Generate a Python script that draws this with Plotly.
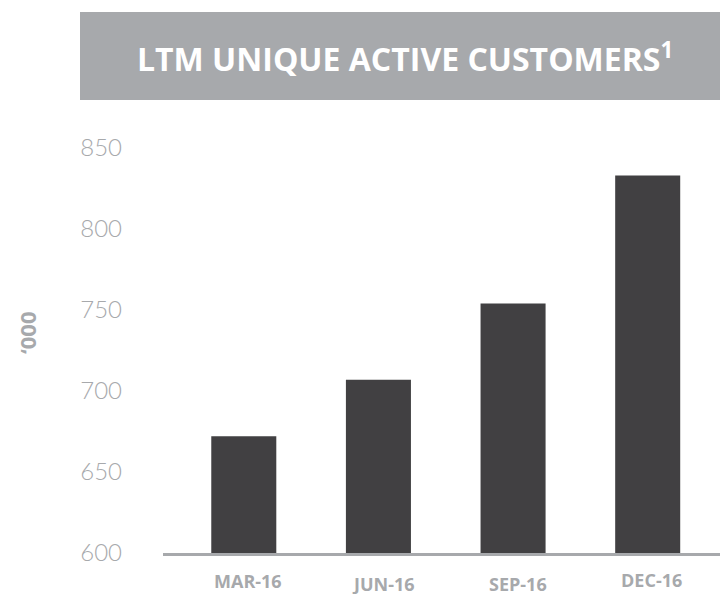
import plotly.graph_objects as go

categories = ["MAR-16", "JUN-16", "SEP-16", "DEC-16"]
values = [672, 707, 754, 833]
y_ticks = [600, 650, 700, 750, 800, 850]
title_text = "LTM UNIQUE ACTIVE CUSTOMERS<sup>1</sup>"
y_label = "‘000"

# label styling offsets (px)
label_dx = [4, 5, 5, 4]
label_dy = [-28, -31, -31, -27]

GREY = "#a7a9ac"
BAR = "#414042"

fig = go.Figure()
fig.add_trace(go.Bar(
    x=list(range(len(categories))), y=values,
    marker=dict(color=BAR, line=dict(width=0)),
    width=0.483,
    hoverinfo="skip",
))

fig.update_layout(
    width=720, height=594,
    margin=dict(l=163, r=0, t=148, b=41),
    paper_bgcolor="white", plot_bgcolor="white",
    showlegend=False,
    font=dict(family="Lato, Open Sans, sans-serif"),
)
fig.update_xaxes(
    range=[-0.6, 3.537], showticklabels=False, showgrid=False, zeroline=False,
    showline=True, linecolor=GREY, linewidth=3, ticks="",
)
fig.update_yaxes(
    range=[600, 850], tickvals=y_ticks, ticktext=[str(v) for v in y_ticks],
    showgrid=False, zeroline=False, showline=False, ticks="",
    tickfont=dict(size=24, color=GREY, family="Lato, Open Sans, sans-serif", weight=300),
    ticklabelstandoff=40,
)

for i, c in enumerate(categories):
    fig.add_annotation(
        x=i, y=0, xref="x", yref="paper", text="<b>" + c + "</b>",
        showarrow=False, xanchor="center", yanchor="middle",
        xshift=label_dx[i], yshift=label_dy[i], borderpad=0,
        font=dict(size=18, color=GREY, family="Open Sans, sans-serif"),
    )

# title box
fig.add_shape(type="rect", xref="paper", yref="paper",
              x0=(80 - 163) / 557, x1=1.0, y0=(553 - 100) / 405, y1=(553 - 12) / 405,
              fillcolor=GREY, line=dict(width=0), layer="below")
fig.add_annotation(
    x=(405 - 163) / 557, y=(553 - 57) / 405, xref="paper", yref="paper",
    text="<b>" + title_text + "</b>", showarrow=False,
    xanchor="center", yanchor="middle",
    font=dict(size=32, color="white", family="Open Sans, sans-serif"),
)

fig.add_annotation(
    x=(27 - 163) / 557, y=(553 - 333) / 405, xref="paper", yref="paper",
    text="<b>" + y_label + "</b>", showarrow=False, textangle=-90,
    xanchor="center", yanchor="middle",
    font=dict(size=22, color=GREY, family="Open Sans, sans-serif"),
)

fig.write_html("out.html", config={"displayModeBar": False},
               post_script="document.body.style.margin='0';document.body.style.padding='0';")
